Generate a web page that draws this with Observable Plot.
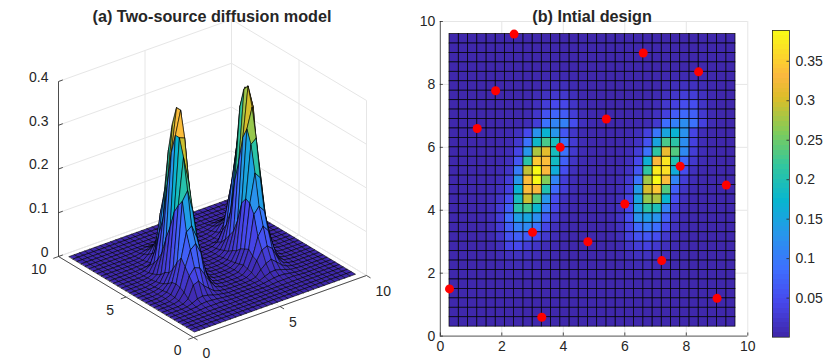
<!DOCTYPE html>
<html>
<head>
<meta charset="utf-8">
<script src="https://cdn.jsdelivr.net/npm/d3@7"></script>
<script src="https://cdn.jsdelivr.net/npm/@observablehq/plot@0.6"></script>
<style>
html,body{margin:0;padding:0;background:#fff}
#chart{display:flex;width:830px;height:362px;overflow:hidden}
#chart svg{display:block;flex:none;max-width:none}
</style>
</head>
<body>
<div id="chart"></div>
<script>
const titleA = "(a) Two-source diffusion model";
const titleB = "(b) Intial design";

// grid nodes
const xGrid = [0.3,0.6,0.9,1.2,1.5,1.8,2.1,2.4,2.7,3.0,3.3,3.6,3.9,4.2,4.5,4.8,5.1,5.4,5.7,6.0,6.3,6.6,6.9,7.2,7.5,7.8,8.1,8.4,8.7,9.0,9.3,9.6];
const yGrid = xGrid;

// response in thousandths; one row per yGrid value, bottom row first
const zRows = [
[3,3,3,3,3,3,3,3,3,3,3,3,3,3,3,3,3,3,3,3,3,3,3,3,3,3,3,3,3,3,3,3],
[3,3,3,3,3,3,3,3,3,3,3,3,3,3,3,3,3,3,3,3,3,3,3,3,3,3,3,3,3,3,3,3],
[3,3,3,3,3,3,3,3,3,3,3,3,3,3,3,3,3,3,3,3,3,3,3,3,3,3,3,3,3,3,3,3],
[3,3,3,3,3,3,3,3,3,3,3,3,3,3,3,3,3,3,3,3,3,3,3,3,3,3,3,3,3,3,3,3],
[3,3,3,3,3,3,3,3,3,3,3,3,3,3,3,3,3,3,3,3,3,3,3,3,3,3,3,3,3,3,3,3],
[3,3,3,3,3,4,5,5,5,5,4,3,3,3,3,3,3,3,3,4,5,5,5,5,4,3,3,3,3,3,3,3],
[3,3,3,3,4,5,8,9,8,7,5,4,3,3,3,3,3,3,4,6,8,9,8,6,4,3,3,3,3,3,3,3],
[3,3,3,3,4,8,14,16,14,10,7,5,3,3,3,3,3,4,5,10,15,16,13,9,5,4,3,3,3,3,3,3],
[3,3,3,3,5,13,40,45,30,20,10,6,4,3,3,3,3,4,7,20,30,35,25,14,7,4,3,3,3,3,3,3],
[3,3,3,4,7,22,55,70,65,45,25,10,5,3,3,3,3,5,12,35,55,60,50,25,10,5,3,3,3,3,3,3],
[3,3,3,4,9,28,70,105,115,90,40,14,6,4,3,3,3,5,15,40,80,100,85,45,15,6,4,3,3,3,3,3],
[3,3,3,5,10,30,85,140,150,120,65,25,8,4,3,3,4,6,18,50,125,140,125,70,20,7,4,3,3,3,3,3],
[3,3,3,5,10,28,70,205,225,175,100,40,12,5,3,3,4,6,15,45,145,210,195,105,30,9,4,3,3,3,3,3],
[3,3,3,4,8,20,50,190,295,235,130,50,16,6,3,3,3,5,12,40,150,270,280,175,50,14,5,3,3,3,3,3],
[3,3,3,4,7,14,35,170,335,330,200,80,30,9,4,3,3,5,10,30,135,300,345,235,70,20,7,4,3,3,3,3],
[3,3,3,4,5,10,30,130,335,388,260,110,30,10,4,3,3,4,8,25,90,275,388,335,110,30,10,4,3,3,3,3],
[3,3,3,3,5,8,20,100,290,388,330,160,50,14,5,3,3,4,7,18,60,215,375,365,160,50,14,5,3,3,3,3],
[3,3,3,3,4,6,14,60,210,345,335,185,70,20,7,4,3,4,5,14,45,165,330,370,200,80,24,8,4,3,3,3],
[3,3,3,3,4,5,10,40,130,280,310,190,90,25,8,4,3,3,5,10,30,90,215,315,235,115,30,10,4,3,3,3],
[3,3,3,3,3,4,7,25,90,180,230,190,90,28,9,4,3,3,4,7,18,55,150,230,210,120,35,10,4,3,3,3],
[3,3,3,3,3,4,6,15,45,125,170,130,60,22,7,4,3,3,4,6,12,35,95,150,170,125,40,10,4,3,3,3],
[3,3,3,3,3,3,4,5,10,30,90,110,105,50,14,6,3,3,3,3,5,8,25,85,105,120,90,35,9,4,3,3],
[3,3,3,3,3,3,4,4,7,22,55,75,65,30,9,5,3,3,3,3,4,6,15,35,65,80,70,25,7,4,3,3],
[3,3,3,3,3,3,3,4,5,14,30,45,42,20,7,4,3,3,3,3,3,5,10,24,35,50,50,20,6,3,3,3],
[3,3,3,3,3,3,3,3,4,9,16,24,24,12,5,3,3,3,3,3,3,4,7,14,22,30,30,15,6,3,3,3],
[3,3,3,3,3,3,3,3,3,5,8,12,12,7,4,3,3,3,3,3,3,3,4,8,12,15,15,9,5,3,3,3],
[3,3,3,3,3,3,3,3,3,4,5,6,6,5,3,3,3,3,3,3,3,3,4,5,6,7,7,6,4,3,3,3],
[3,3,3,3,3,3,3,3,3,3,3,3,3,3,3,3,3,3,3,3,3,3,3,3,3,3,3,3,3,3,3,3],
[3,3,3,3,3,3,3,3,3,3,3,3,3,3,3,3,3,3,3,3,3,3,3,3,3,3,3,3,3,3,3,3],
[3,3,3,3,3,3,3,3,3,3,3,3,3,3,3,3,3,3,3,3,3,3,3,3,3,3,3,3,3,3,3,3],
[3,3,3,3,3,3,3,3,3,3,3,3,3,3,3,3,3,3,3,3,3,3,3,3,3,3,3,3,3,3,3,3],
[3,3,3,3,3,3,3,3,3,3,3,3,3,3,3,3,3,3,3,3,3,3,3,3,3,3,3,3,3,3,3,3]
];

// design points
const designX = [0.3,3.3,9.0,7.2,4.8,3.0,6.0,9.3,7.8,3.9,5.4,1.2,1.8,2.4,6.6,8.4];
const designY = [1.5,0.6,1.2,2.4,3.0,3.3,4.2,4.8,5.4,6.0,6.9,6.6,7.8,9.6,9.0,8.4];

// tick values
const xyTicks3d = [0,5,10];
const zTicks3d = [0,0.1,0.2,0.3,0.4];
const ticksB = [0,2,4,6,8,10];
const barTicks = [0.05,0.1,0.15,0.2,0.25,0.3,0.35];

// parula
const colorStops = ["#3e26a8","#4747eb","#3e6fff","#2796eb","#08b5d0","#31c69f","#80cc59","#dcbd29","#fbb83e","#fccf30","#f9fb15"];
const stopAt = [0,0.111,0.222,0.333,0.444,0.556,0.667,0.778,0.85,0.9,1];
const zMin = 0.0005, zMax = 0.389;
const colorDomain = stopAt.map(t => zMin + (zMax - zMin) * t);
const colorScale = {type: "linear", domain: colorDomain, range: colorStops, interpolate: "rgb"};

const ink = "#262626", gridInk = "#e6e6e6";
const font = {fontFamily: "'Liberation Sans', Arial, sans-serif", fontSize: "14px", color: ink, background: "transparent"};

// flat shaded faces: a face takes the value of its lowest-index node
const faces = [];
for (let j = yGrid.length - 2; j >= 0; --j)
  for (let i = xGrid.length - 2; i >= 0; --i)
    faces.push({i, j, x1: xGrid[i], x2: xGrid[i + 1], y1: yGrid[j], y2: yGrid[j + 1], v: zRows[j][i] / 1000});

// ---------- panel (a): orthographic view of the surface ----------
const viewX = (x, y) => 193 + 17.3 * x - 13.5 * y;
const viewY = (x, y, z) => 337 - 6.2 * x - 8.1 * y - 437.5 * z;
const P = (x, y, z) => ({px: viewX(x, y), py: viewY(x, y, z)});

const quadVerts = faces.flatMap((f, id) => [[f.i, f.j], [f.i + 1, f.j], [f.i + 1, f.j + 1], [f.i, f.j + 1]]
  .map(([a, b]) => ({id, v: f.v, ...P(xGrid[a], yGrid[b], zRows[b][a] / 1000)})));

const seg = (a, b) => ({x1: a.px, y1: a.py, x2: b.px, y2: b.py});
const gridSegs = [
  ...zTicks3d.flatMap(z => [seg(P(0, 10, z), P(10, 10, z)), seg(P(10, 10, z), P(10, 0, z))]),
  ...xyTicks3d.flatMap(t => [
    seg(P(t, 10, 0), P(t, 10, 0.4)), seg(P(10, t, 0), P(10, t, 0.4)),
    seg(P(t, 0, 0), P(t, 10, 0)), seg(P(0, t, 0), P(10, t, 0))
  ])
];
const axisSegs = [seg(P(0, 0, 0), P(10, 0, 0)), seg(P(0, 0, 0), P(0, 10, 0)), seg(P(0, 10, 0), P(0, 10, 0.4))];
const tickSegs = [
  ...xyTicks3d.map(x => seg(P(x, 0, 0), P(x, -0.3, 0))),
  ...xyTicks3d.map(y => seg(P(0, y, 0), P(-0.3, y, 0))),
  ...zTicks3d.map(z => seg(P(0, 10, z), P(0.25, 10, z)))
];
const linkOpts = {x1: "x1", y1: "y1", x2: "x2", y2: "y2"};

const panelA = Plot.plot({
  width: 405, height: 362, margin: 0,
  x: {domain: [0, 405], range: [0, 405], axis: null},
  y: {domain: [0, 362], range: [0, 362], axis: null},
  color: colorScale,
  style: font,
  marks: [
    Plot.link(gridSegs, {...linkOpts, stroke: gridInk, strokeWidth: 1}),
    Plot.link(axisSegs, {...linkOpts, stroke: ink, strokeWidth: 0.8}),
    Plot.link(tickSegs, {...linkOpts, stroke: ink, strokeWidth: 0.8}),
    Plot.line(quadVerts, {x: "px", y: "py", z: "id", fill: "v", stroke: "#000", strokeWidth: 0.6, curve: "linear-closed"}),
    Plot.text(zTicks3d, {x: z => viewX(0, 10), y: z => viewY(0, 10, z), text: d => String(d), textAnchor: "end", dx: -10, dy: -4}),
    Plot.text(xyTicks3d, {x: y => viewX(0, y), y: y => viewY(0, y, 0), text: d => String(d), textAnchor: "end", dx: -12, dy: 13.5}),
    Plot.text(xyTicks3d, {x: x => viewX(x, 0), y: x => viewY(x, 0, 0), text: d => String(d), textAnchor: "start", dx: 9, dy: 16}),
    Plot.text([titleA], {frameAnchor: "top-left", text: d => d, dx: 211.5, dy: 9.5, textAnchor: "middle", fontWeight: "bold", fontSize: 16.2})
  ]
});

// ---------- panel (b): the same faces seen from above ----------
const panelB = Plot.plot({
  width: 355, height: 362,
  marginLeft: 34.8, marginRight: 12.7, marginTop: 21, marginBottom: 26.4,
  x: {domain: [0, 10], axis: null},
  y: {domain: [0, 10], axis: null},
  color: colorScale,
  style: font,
  marks: [
    Plot.ruleX(ticksB.slice(1), {x: d => d, stroke: gridInk, strokeWidth: 1}),
    Plot.ruleY(ticksB.slice(1), {y: d => d, stroke: gridInk, strokeWidth: 1}),
    Plot.rect(faces, {x1: "x1", x2: "x2", y1: "y1", y2: "y2", fill: "v", stroke: "#000", strokeWidth: 0.8, strokeOpacity: 0.9, inset: 0}),
    Plot.ruleX([0], {stroke: ink, strokeWidth: 0.8}),
    Plot.ruleY([0], {stroke: ink, strokeWidth: 0.8}),
    Plot.ruleX(ticksB, {x: d => d, y1: 0, y2: 0.1, stroke: ink, strokeWidth: 0.8}),
    Plot.ruleY(ticksB, {y: d => d, x1: 0, x2: 0.1, stroke: ink, strokeWidth: 0.8}),
    Plot.axisX(ticksB, {tickSize: 0, tickPadding: 5, label: null, fontSize: 14}),
    Plot.axisY(ticksB, {tickSize: 0, tickPadding: 5, label: null, fontSize: 14}),
    Plot.dot(designX.map((x, i) => ({x, y: designY[i]})), {x: "x", y: "y", r: 4.5, fill: "#ff0000", stroke: "none", clip: false}),
    Plot.text([titleB], {frameAnchor: "top", text: d => d, dx: -2, dy: -11.5, fontWeight: "bold", fontSize: 16.2})
  ]
});

// ---------- colour bar ----------
const barLevels = d3.range(64).map(k => {
  const lo = zMin + (zMax - zMin) * k / 64, hi = zMin + (zMax - zMin) * (k + 1) / 64;
  return {lo, hi, v: (lo + hi) / 2};
});
const panelC = Plot.plot({
  width: 70, height: 362,
  marginLeft: 12, marginRight: 41, marginTop: 30, marginBottom: 25.3,
  x: {domain: [0, 1], axis: null},
  y: {domain: [zMin, zMax], axis: null},
  color: colorScale,
  style: font,
  marks: [
    Plot.rect(barLevels, {x1: 0, x2: 1, y1: "lo", y2: "hi", fill: "v", inset: 0, shapeRendering: "crispEdges"}),
    Plot.frame({stroke: ink, strokeWidth: 0.8}),
    Plot.ruleY(barTicks, {y: d => d, x1: 0.85, x2: 1, stroke: ink, strokeWidth: 0.8}),
    Plot.axisY(barTicks, {anchor: "right", tickSize: 0, tickPadding: 6, label: null, fontSize: 14, tickFormat: d => String(d)})
  ]
});

document.getElementById("chart").append(panelA, panelB, panelC);
</script>
</body>
</html>
